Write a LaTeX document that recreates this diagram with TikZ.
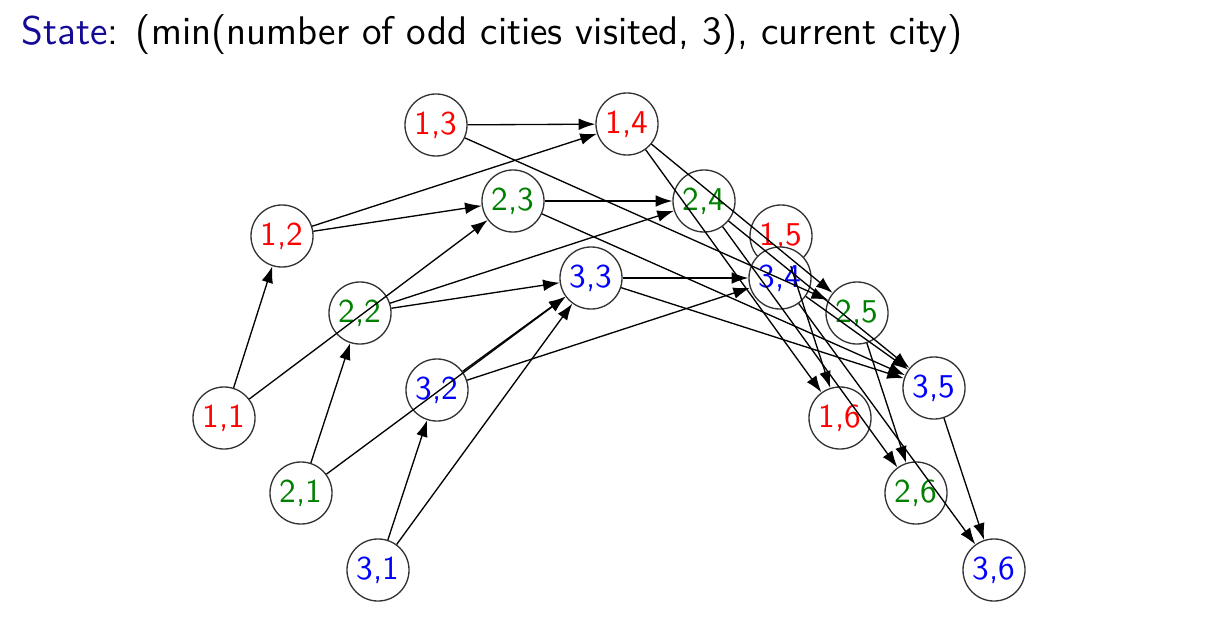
\documentclass[tikz,border=0pt]{standalone}
\usetikzlibrary{arrows.meta}
\definecolor{structure}{RGB}{20,10,150}
\definecolor{darkgreen}{RGB}{0,128,0}
\tikzstyle{city}=[draw=black!80, fill=white, circle, thin, minimum size=0.655cm, inner sep=0pt, font=\sffamily\fontsize{10}{12}\selectfont]
\tikzstyle{one}=[city, text=red]
\tikzstyle{two}=[city, text=darkgreen]
\tikzstyle{three}=[city, text=blue]
\tikzstyle{move}=[-{Latex[length=5pt,width=3.5pt]}, thin]

\begin{document}
\begin{tikzpicture}[x=0.01056cm, y=-0.01056cm]
    \useasboundingbox (0,0) rectangle (1212,620);
    \node[anchor=base west, inner sep=0pt, font=\sffamily\fontsize{12}{14}\selectfont] (title) at (21,45)
      {\textcolor{structure}{State}: (min(number of odd cities visited, 3), current city)};
    % one odd city
    \node[one] (s11) at (224,418) {1,1};
    \node[one] (s12) at (282,236) {1,2};
    \node[one] (s13) at (436,125) {1,3};
    \node[one] (s14) at (627,124) {1,4};
    \node[one] (s15) at (781,236) {1,5};
    \node[one] (s16) at (840,418) {1,6};
    % two odd cities
    \node[two] (s21) at (301,493) {2,1};
    \node[two] (s22) at (360,313) {2,2};
    \node[two] (s23) at (513,201) {2,3};
    \node[two] (s24) at (704,201) {2,4};
    \node[two] (s25) at (857,313) {2,5};
    \node[two] (s26) at (916,493) {2,6};
    % three or more
    \node[three] (s31) at (378,570) {3,1};
    \node[three] (s32) at (437,390) {3,2};
    \node[three] (s33) at (591,278) {3,3};
    \node[three] (s34) at (780,278) {3,4};
    \node[three] (s35) at (934,388) {3,5};
    \node[three] (s36) at (994,570) {3,6};
    % moves
    \draw[move] (s11) -- (s12);
    \draw[move] (s11) -- (s23);
    \draw[move] (s21) -- (s22);
    \draw[move] (s21) -- (s33);
    \draw[move] (s31) -- (s32);
    \draw[move] (s31) -- (s33);
    \draw[move] (s12) -- (s23);
    \draw[move] (s12) -- (s14);
    \draw[move] (s22) -- (s33);
    \draw[move] (s22) -- (s24);
    \draw[move] (s32) -- (s33);
    \draw[move] (s32) -- (s34);
    \draw[move] (s13) -- (s14);
    \draw[move] (s13) -- (s25);
    \draw[move] (s23) -- (s24);
    \draw[move] (s23) -- (s35);
    \draw[move] (s33) -- (s34);
    \draw[move] (s33) -- (s35);
    \draw[move] (s14) -- (s25);
    \draw[move] (s14) -- (s16);
    \draw[move] (s24) -- (s35);
    \draw[move] (s24) -- (s26);
    \draw[move] (s34) -- (s35);
    \draw[move] (s34) -- (s36);
    \draw[move] (s15) -- (s16);
    \draw[move] (s25) -- (s26);
    \draw[move] (s35) -- (s36);
\end{tikzpicture}
\end{document}
